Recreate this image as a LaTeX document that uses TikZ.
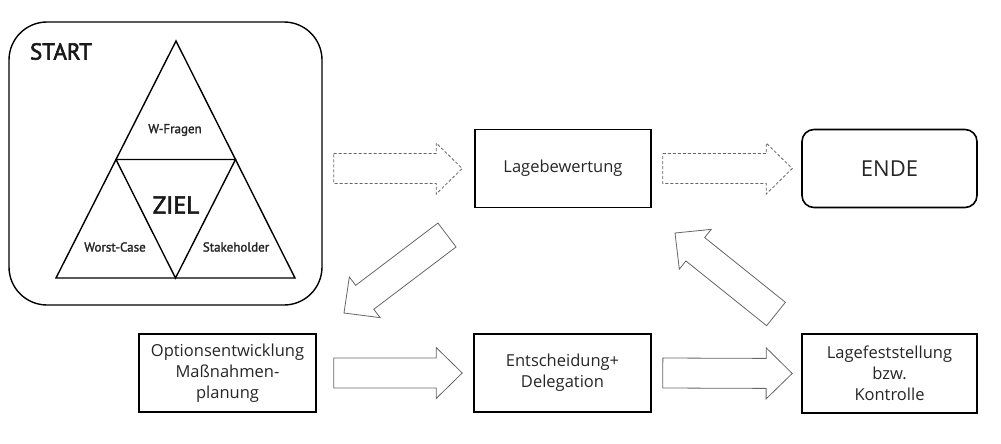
\documentclass[tikz,border=0pt]{standalone}
\usepackage{fontspec}
\setmainfont{Open Sans}
\newfontfamily\dinfont[FakeBold=1.8]{PT Sans}
\newfontfamily\dinbig[FakeBold=2.6]{PT Sans}
\usetikzlibrary{calc}
\newcommand\blockarrow[3][]{%
  \coordinate (ba-b) at ($(#3)!26pt!(#2)$);
  \draw[arrowline,#1]
    ($(#2)!15pt!90:(#3)$) -- ($(ba-b)!15pt!90:(#3)$) -- ($(ba-b)!25.5pt!90:(#3)$)
    -- (#3) -- ($(ba-b)!25.5pt!-90:(#3)$) -- ($(ba-b)!15pt!-90:(#3)$)
    -- ($(#2)!15pt!-90:(#3)$) -- cycle;}
\begin{document}
\begin{tikzpicture}[x=1pt,y=-1pt,
  box/.style={draw=black,line width=1.6pt,minimum width=176pt,minimum height=78pt,
    inner sep=2pt,align=center,font=\fontsize{16.5}{21}\selectfont,text=black!85},
  arrowline/.style={draw=black!60,line width=0.8pt,line join=miter},
  dashedarrow/.style={dash pattern=on 3pt off 2pt},
  tri/.style={line width=1.4pt,line join=miter},
  trilabel/.style={font=\dinfont\fontsize{13}{14}\selectfont,inner sep=0pt,text=black!85}]
\useasboundingbox (0,0) rectangle (1001,444);
% start box
\node[draw,line width=1.4pt,rounded corners=38pt,minimum width=313pt,minimum height=283pt] (start) at (165.5,163.5) {};
\node[font=\dinbig\fontsize{23}{26}\selectfont,inner sep=0pt,text=black!90] (starttxt) at (61,51.5) {START};
% triangle
\coordinate (ta) at (176,41);
\coordinate (tl) at (56,278);
\coordinate (tr) at (295,278);
\coordinate (ml) at ($(ta)!0.5!(tl)$);
\coordinate (mr) at ($(ta)!0.5!(tr)$);
\coordinate (mb) at ($(tl)!0.5!(tr)$);
\draw[tri] (ta) -- (tr) -- (tl) -- cycle;
\draw[tri] (ml) -- (mr) -- (mb) -- cycle;
\node[trilabel] (wf) at (175,130) {W-Fragen};
\node[font=\dinbig\fontsize{24.5}{26}\selectfont,inner sep=0pt,text=black!90] (ziel) at (176,205) {ZIEL};
\node[trilabel] (wc) at (115,247) {Worst-Case};
\node[trilabel] (sh) at (236,247) {Stakeholder};
% boxes
\node[box] (lage) at (563,168.5) {Lagebewertung};
\node[box,rounded corners=12pt,minimum width=175pt,font=\fontsize{22}{26}\selectfont] (ende) at (889.5,168.5) {ENDE};
\node[box,minimum width=177pt] (opt) at (227.5,373) {Optionsentwicklung\\Maßnahmen-\\planung};
\node[box,minimum width=177pt] (ent) at (562.5,373) {Entscheidung+\\Delegation};
\node[box,minimum width=175pt,minimum height=79pt] (kon) at (889.5,373.5) {Lagefeststellung\\bzw.\\Kontrolle};
% arrows
\coordinate (a1t) at ($(start.east|-lage.west)+(11,0)$);
\coordinate (a1h) at ($(lage.west)+(-12,0)$);
\blockarrow[dashedarrow]{a1t}{a1h}
\coordinate (a2t) at ($(lage.east)+(11,0)$);
\coordinate (a2h) at ($(ende.west)+(-9,0)$);
\blockarrow[dashedarrow]{a2t}{a2h}
\coordinate (a3t) at (447,235);
\coordinate (a3h) at (344,313);
\blockarrow{a3t}{a3h}
\coordinate (a4t) at ($(opt.east)+(17,0)$);
\coordinate (a4h) at ($(ent.west)+(-11,0)$);
\blockarrow{a4t}{a4h}
\coordinate (a5t) at ($(ent.east)+(11,0)$);
\coordinate (a5h) at ($(kon.west)+(-9,0)$);
\blockarrow{a5t}{a5h}
\coordinate (a6t) at (776,314);
\coordinate (a6h) at (675,233);
\blockarrow{a6t}{a6h}
\end{tikzpicture}
\end{document}
